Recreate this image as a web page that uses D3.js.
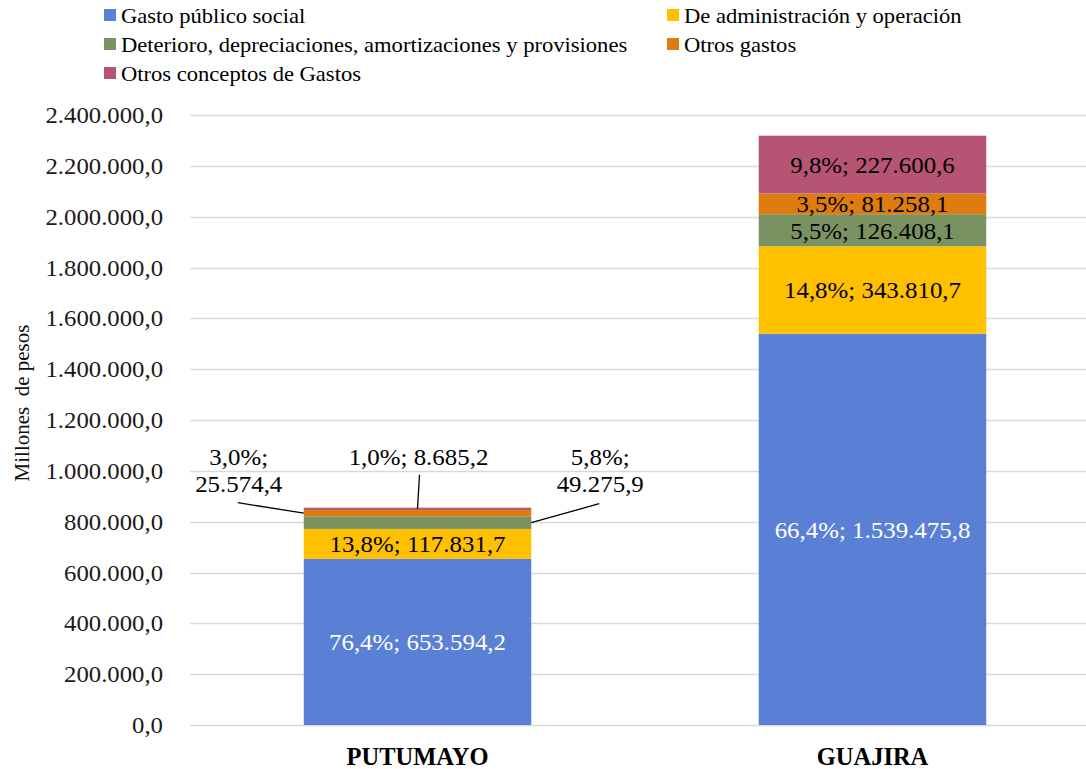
<!DOCTYPE html>
<html>
<head>
<meta charset="utf-8">
<script src="https://cdn.jsdelivr.net/npm/d3@7"></script>
<style>
  html, body { margin: 0; padding: 0; background: #fff; }
  svg { display: block; }
  text { font-family: "Liberation Serif", "Times New Roman", serif; }
</style>
</head>
<body>
<svg id="chart" width="1086" height="769" font-family="Liberation Serif, serif"></svg>
<script>
// ---- Data ----
const categories = ["PUTUMAYO", "GUAJIRA"];
const seriesNames = [
  "Gasto público social",
  "De administración y operación",
  "Deterioro, depreciaciones, amortizaciones y provisiones",
  "Otros gastos",
  "Otros conceptos de Gastos"
];
const gastoPublicoSocial = [653594.2, 1539475.8];
const administracionOperacion = [117831.7, 343810.7];
const deterioro = [49275.9, 126408.1];
const otrosGastos = [25574.4, 81258.1];
const otrosConceptos = [8685.2, 227600.6];
const percentLabels = [
  ["76,4%", "66,4%"],
  ["13,8%", "14,8%"],
  ["5,8%", "5,5%"],
  ["3,0%", "3,5%"],
  ["1,0%", "9,8%"]
];
const yTicks = [0, 200000, 400000, 600000, 800000, 1000000, 1200000, 1400000, 1600000, 1800000, 2000000, 2200000, 2400000];
const yAxisTitle = "Millones  de pesos";

const colors = ["#5A80D6", "#FFC000", "#7A9262", "#DF7C10", "#B55473"];
const seriesValues = [gastoPublicoSocial, administracionOperacion, deterioro, otrosGastos, otrosConceptos];

// ---- Formatting (es-CO style) ----
const loc = d3.formatLocale({decimal: ",", thousands: ".", grouping: [3], currency: ["$", ""]});
const fmt = loc.format(",.1f");

// ---- Layout ----
const svg = d3.select("#chart");
const y = d3.scaleLinear().domain([0, 2400000]).range([725, 115]);
const x = d3.scaleBand().domain(categories).range([190, 1100]).paddingInner(0.5).paddingOuter(0.25);
const SX = "scale(1.06,1)";

// gridlines
svg.append("g").selectAll("line").data(yTicks).join("line")
  .attr("x1", 190).attr("x2", 1086)
  .attr("y1", d => Math.round(y(d)) + 0.5).attr("y2", d => Math.round(y(d)) + 0.5)
  .attr("stroke", "#d9d9d9").attr("stroke-width", 1.5);

// y axis labels
const yAxis = d3.axisLeft(y).tickValues(yTicks).tickFormat(d => fmt(d)).tickSize(0).tickPadding(0);
const yg = svg.append("g").attr("transform", "translate(163,0)").call(yAxis);
yg.attr("font-family", null);
yg.select(".domain").remove();
yg.selectAll("text").attr("font-size", 22.5).attr("fill", "#1a1a1a").attr("dy", "0.34em")
  .attr("transform", "scale(1.1,1)");

// y axis title
svg.append("text")
  .attr("transform", "translate(29,403) rotate(-90)")
  .attr("text-anchor", "middle")
  .attr("font-size", 21).attr("fill", "#111")
  .style("white-space", "pre")
  .text(yAxisTitle);

// stack
const rows = categories.map((c, i) => {
  const r = {cat: c};
  seriesNames.forEach((s, k) => r[s] = seriesValues[k][i]);
  return r;
});
const stacked = d3.stack().keys(seriesNames)(rows);

const gBars = svg.append("g");
stacked.forEach((layer, k) => {
  gBars.append("g").attr("fill", colors[k]).selectAll("rect").data(layer).join("rect")
    .attr("x", d => x(d.data.cat))
    .attr("width", x.bandwidth())
    .attr("y", d => y(d[1]))
    .attr("height", d => y(d[0]) - y(d[1]));
});

const labelFont = 23.5;
function label(px, py, txt, fill, dy) {
  svg.append("g").attr("transform", `translate(${px},${py}) ${SX}`)
    .append("text")
    .attr("dy", dy || 0)
    .attr("text-anchor", "middle")
    .attr("font-size", labelFont)
    .attr("fill", fill)
    .text(txt);
}

// inside labels
stacked.forEach((layer, k) => {
  layer.forEach((d, i) => {
    const h = y(d[0]) - y(d[1]);
    const inside = h >= 20;
    if (!inside) return; // small Putumayo segments handled by callouts
    label(x(d.data.cat) + x.bandwidth() / 2, (y(d[0]) + y(d[1])) / 2,
      percentLabels[k][i] + "; " + fmt(seriesValues[k][i]), k === 0 ? "#fff" : "#000", "0.35em");
  });
});

// Putumayo callouts
{
  const i = 0;
  const bx = x(categories[i]);
  const bw = x.bandwidth();
  const top = y(stacked[4][i][1]);
  const callouts = [
    {k: 3, lines: 2, tx: bx - 65, ax: bx, lx1: bx - 66, ly1: top - 5},
    {k: 4, lines: 1, tx: bx + bw / 2 + 1, ax: bx + bw / 2, lx1: bx + bw / 2 + 2, ly1: top - 33},
    {k: 2, lines: 2, tx: bx + bw + 69, ax: bx + bw, lx1: bx + bw + 68, ly1: top - 4}
  ];
  callouts.forEach(c => {
    const d = stacked[c.k][i];
    const ay = (y(d[0]) + y(d[1])) / 2;
    svg.append("line")
      .attr("x1", c.lx1).attr("y1", c.ly1).attr("x2", c.ax).attr("y2", ay)
      .attr("stroke", "#000").attr("stroke-width", 1.3);
    const pct = percentLabels[c.k][i];
    const val = fmt(seriesValues[c.k][i]);
    if (c.lines === 2) {
      label(c.tx, top - 43, pct + ";", "#000");
      label(c.tx, top - 16, val, "#000");
    } else {
      label(c.tx, top - 43, pct + "; " + val, "#000");
    }
  });
}

// category labels
svg.append("g").selectAll("text").data(categories).join("text")
  .attr("x", d => x(d) + x.bandwidth() / 2)
  .attr("y", 765)
  .attr("text-anchor", "middle")
  .attr("font-size", 24.5).attr("font-weight", "bold").attr("fill", "#000")
  .text(d => d);

// legend
const legendPos = [
  {x: 104, y: 15}, {x: 667, y: 15},
  {x: 104, y: 44}, {x: 667, y: 44},
  {x: 104, y: 73}
];
const lg = svg.append("g");
seriesNames.forEach((s, k) => {
  const p = legendPos[k];
  lg.append("rect").attr("x", p.x).attr("y", p.y - 6).attr("width", 12).attr("height", 12).attr("fill", colors[k]);
  lg.append("g").attr("transform", `translate(${p.x + 17},${p.y}) scale(1.05,1)`)
    .append("text").attr("dy", "0.35em")
    .attr("font-size", 21.5).attr("fill", "#000").text(s);
});
</script>
</body>
</html>
